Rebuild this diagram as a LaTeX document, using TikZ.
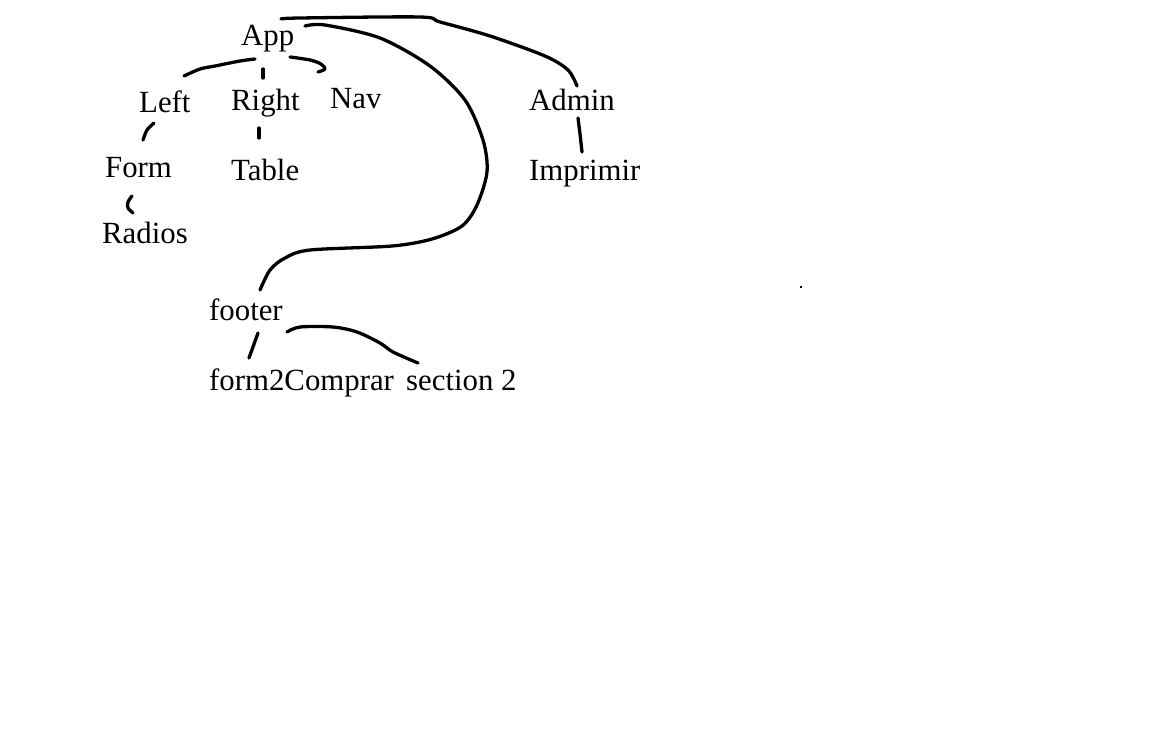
\documentclass[tikz,border=0pt]{standalone}
\usepackage{fontspec}
\setmainfont{Liberation Serif}
\usetikzlibrary{positioning}

\begin{document}
\begin{tikzpicture}[x=1pt, y=-1pt,
    lbl/.style={anchor=base west, inner sep=0pt, font=\fontsize{30.8}{36}\selectfont},
    pen/.style={line width=3.3pt, line cap=round, line join=round}]
    \useasboundingbox (0,0) rectangle (1176,755);
    \node[lbl] (app) at (241,45) {App};
    \node[lbl] (left) at (139,112) {Left};
    \node[lbl] (right) at (231,110) {Right};
    \node[lbl] (nav) at (330,108) {Nav};
    \node[lbl] (admin) at (529,110) {Admin};
    \node[lbl] (form) at (105,177) {Form};
    \node[lbl] (table) at (231,180) {Table};
    \node[lbl] (imprimir) at (529,180) {Imprimir};
    \node[lbl] (radios) at (102,243) {Radios};
    \node[lbl] (footer) at (209,320) {footer};
    \node[lbl] (comprar) at (209,390) {form2Comprar};
    \node[lbl] (section) at (406,390) {section 2};

    \draw[pen] plot[smooth] coordinates {([shift={(40,-26)}]app.base west) (300,18) (420,17) (440,22) (490,36) (545,56) (568,70) ([shift={(48,-24)}]admin.base west)};
    \draw[pen] plot[smooth] coordinates {([shift={(64,-19)}]app.base west) (325,25) (380,38) (430,66) (465,100) (483,140) (487,172) (477,205) (462,226) (432,239) (392,246) (310,250) (285,258) (270,270) ([shift={(51,-30)}]footer.base west)};
    \draw[pen] plot[smooth] coordinates {([shift={(14,14)}]app.base west) (240,61) (215,66) (200,69) ([shift={(45,-36)}]left.base west)};
    \draw[pen] ([shift={(22,24)}]app.base west) -- ([shift={(32,-32)}]right.base west);
    \draw[pen] plot[smooth] coordinates {([shift={(49,12)}]app.base west) (310,60) (321,64) (325,69) ([shift={(-12,-36)}]nav.base west)};
    \draw[pen] plot[smooth] coordinates {([shift={(49,8)}]admin.base west) (580,134) ([shift={(53,-28)}]imprimir.base west)};
    \draw[pen] plot[smooth] coordinates {([shift={(15,11)}]left.base west) (147,130) ([shift={(38,-37)}]form.base west)};
    \draw[pen] ([shift={(28,18)}]right.base west) -- ([shift={(28,-42)}]table.base west);
    \draw[pen] plot[smooth] coordinates {([shift={(27,19)}]form.base west) (128,202) (128,208) ([shift={(31,-30)}]radios.base west)};
    \draw[pen] ([shift={(49,13)}]footer.base west) -- ([shift={(40,-32)}]comprar.base west);
    \draw[pen] plot[smooth] coordinates {([shift={(78,12)}]footer.base west) (300,327) (333,327) (357,332) (380,343) (393,352) ([shift={(12,-27)}]section.base west)};
    \fill (800,286) rectangle (802,288);
\end{tikzpicture}
\end{document}
